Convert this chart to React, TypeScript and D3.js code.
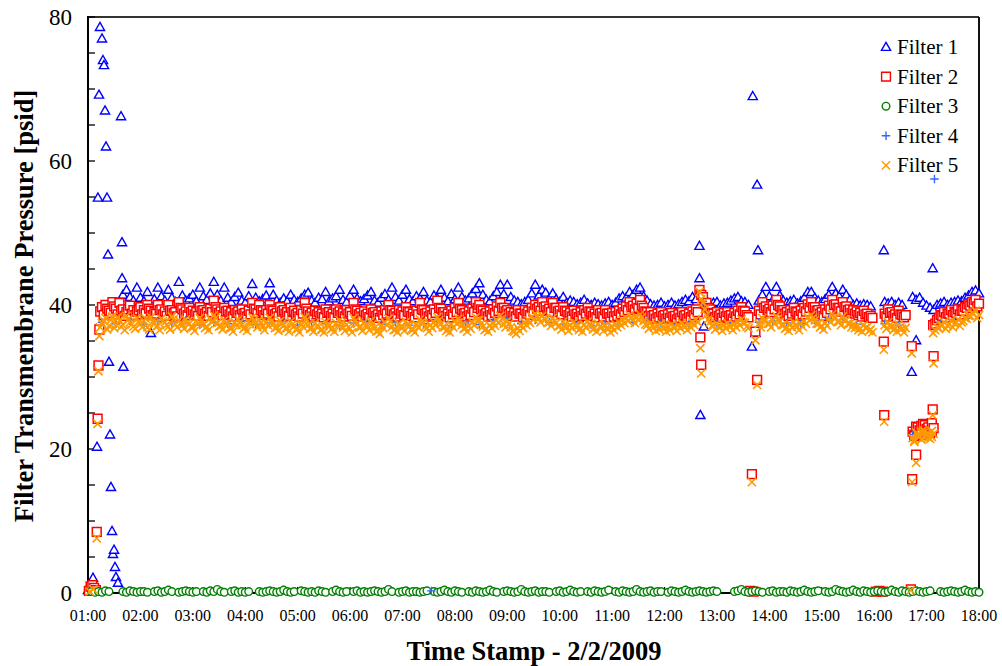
import React from "react";
import * as d3 from "d3";

// ---------- data (minutes after 01:00, pressure in psid) ----------
const STEP = 4; // band series sampled every 4 minutes from 01:00
const OFFSET_B = 2; // second sample set, 2 minutes after each grid point
const F4_STEP = 16;

const X_TICK_LABELS = ["01:00","02:00","03:00","04:00","05:00","06:00","07:00","08:00","09:00","10:00","11:00","12:00","13:00","14:00","15:00","16:00","17:00","18:00"];
const Y_TICKS = [0, 20, 40, 60, 80];
const Y_MINOR_TICKS = [0,5,10,15,20,25,30,35,40,45,50,55,60,65,70,75,80];
const LEGEND_LABELS = ["Filter 1", "Filter 2", "Filter 3", "Filter 4", "Filter 5"];

const F1_BAND: (number | null)[] = [
  null,null,null,null,null,null,null,null,null,null,41.4,42.1,41.1,40.6,42.4,41.0,
  40.5,41.8,36.1,40.8,42.4,41.2,40.6,42.1,41.0,40.4,43.2,41.3,40.6,40.9,41.4,40.5,
  42.4,41.2,40.7,41.6,43.2,41.4,40.6,42.4,41.0,40.4,41.1,41.7,40.6,40.3,41.2,42.9,
  41.0,40.5,40.8,41.3,43.0,41.4,40.6,40.3,40.9,40.5,41.4,40.7,40.4,40.9,41.4,41.7,
  40.6,40.3,41.0,40.8,41.8,40.5,40.9,41.2,42.1,40.7,40.4,41.3,42.1,40.9,40.5,40.8,
  41.3,41.8,40.6,40.3,41.0,41.5,40.7,42.4,41.1,40.6,41.4,42.1,40.8,40.5,41.2,40.9,
  41.8,40.6,40.4,41.3,40.9,42.1,41.0,40.5,41.5,40.8,42.4,41.1,40.6,40.9,41.6,42.2,
  43.0,41.4,40.7,40.5,41.2,41.8,42.8,41.5,42.8,41.1,40.6,40.4,40.1,40.4,40.7,41.6,
  42.8,41.3,42.1,41.7,40.9,41.6,40.8,40.4,41.1,40.3,40.6,40.4,40.1,40.3,40.7,40.2,
  40.0,40.3,40.1,39.9,40.2,40.4,40.0,40.3,40.9,41.2,41.0,41.8,41.4,42.1,42.4,41.2,
  40.6,40.1,39.9,40.0,40.3,39.8,40.0,40.3,39.9,40.1,40.4,40.7,40.5,41.1,40.8,43.7,
  41.5,40.2,40.0,40.3,40.4,39.9,40.2,40.3,40.6,40.9,41.1,40.5,40.4,40.0,null,null,
  40.6,41.4,42.5,41.2,40.7,42.5,41.3,40.6,40.3,40.5,40.7,40.2,40.5,41.0,41.8,41.8,
  41.0,40.6,40.4,40.8,41.4,42.5,41.6,41.2,42.1,41.4,40.7,40.0,40.2,39.9,40.1,40.0,
  39.8,null,null,null,40.4,40.2,40.4,40.0,40.3,40.0,null,null,41.1,40.7,41.0,40.3,
  39.9,39.6,39.3,40.0,40.2,40.4,40.0,40.3,40.4,40.6,40.5,41.0,41.3,41.8,42.0,41.6,
];
const F1_EXTRA: [number, number][] = [
  [0,0.4],[2.3,0.7],[4.6,1.4],[5.7,2.1],[10.3,20.3],[11.4,54.9],[12.6,69.2],[13.7,78.6],
  [16,77.0],[17.2,74.0],[18.3,73.3],[19.5,67.0],[20.6,62.0],[21.8,54.9],[22.9,47.0],[24,32.1],
  [25.2,22.0],[26.3,14.7],[27.5,8.6],[28.6,5.4],[29.8,6.0],[30.9,3.6],[32,2.2],[34.3,1.4],
  [37.8,66.2],[38.9,48.7],[39,43.7],[40.5,31.4],
  [700,48.2],[701,24.7],[705,37.0],
  [760,34.2],[761,69.0],[764,36.1],[766,56.7],[767,47.6],
  [911,47.6],[943,30.7],[948,35.1],[967,45.1],
];

const F2_BAND: (number | null)[] = [
  null,null,null,null,39.7,40.0,39.2,40.4,39.5,40.3,39.4,39.0,39.9,39.3,39.1,39.7,
  39.3,40.0,39.2,39.0,40.0,39.4,39.1,40.0,39.3,39.0,40.4,39.4,39.1,39.6,39.2,39.0,
  39.7,39.3,39.0,39.5,40.6,39.4,39.1,39.6,39.2,39.0,39.3,39.1,39.4,38.9,39.2,40.3,
  39.4,40.0,39.1,39.3,40.0,39.2,38.9,39.7,39.3,39.0,39.6,39.2,38.9,39.3,40.3,39.1,
  38.9,39.2,39.0,38.8,39.4,39.0,38.8,39.4,39.1,38.9,39.3,39.0,40.3,39.2,38.9,39.1,
  38.8,39.4,39.0,38.7,39.1,39.3,40.0,39.2,38.9,39.3,39.1,39.7,39.0,38.8,39.2,40.3,
  39.3,38.9,39.1,39.4,40.6,39.5,39.0,38.8,39.2,39.6,40.3,39.3,38.9,39.1,39.5,40.4,
  40.0,39.2,38.9,39.1,39.4,39.8,40.3,39.6,39.3,39.0,38.9,39.3,38.8,39.3,39.1,39.6,
  40.0,39.7,40.4,39.8,39.5,40.3,39.6,39.2,39.7,39.1,38.9,39.2,38.8,39.0,39.3,39.6,
  39.0,38.8,39.3,38.9,39.3,38.8,38.9,39.0,39.2,39.5,39.8,40.4,39.9,40.2,40.7,39.6,
  39.0,39.0,38.6,38.8,39.0,38.6,38.7,38.9,38.5,38.7,39.0,38.6,38.8,39.1,39.4,42.1,
  41.1,40.3,39.4,38.8,39.0,38.7,38.9,39.0,38.6,38.9,39.2,39.7,39.1,38.3,null,null,
  39.2,40.4,39.8,39.5,39.9,40.7,39.8,39.3,39.0,39.3,39.6,39.0,39.2,39.6,40.1,40.4,
  39.7,39.3,39.0,39.4,39.9,40.7,40.1,39.6,40.4,39.8,39.4,39.3,39.1,38.9,39.2,38.8,
  38.5,null,null,null,38.8,39.4,39.0,38.7,39.2,38.6,38.6,null,22.4,23.1,22.6,23.5,
  22.8,22.2,22.9,37.9,38.6,39.0,38.8,39.3,39.0,39.4,39.2,39.7,40.1,40.4,40.7,40.2,
];
const F2_BAND_B: (number | null)[] = [
  null,null,null,39.1,38.6,39.5,38.9,39.8,38.7,39.2,38.5,39.4,38.8,38.6,39.3,38.7,
  38.9,39.5,38.6,38.8,39.3,38.7,38.5,39.2,38.9,38.4,39.6,38.8,38.6,39.0,38.7,38.5,
  39.2,38.8,38.5,39.0,39.7,38.9,38.6,39.1,38.7,38.4,38.9,38.6,38.8,38.4,38.7,39.5,
  38.9,39.3,38.6,38.8,39.4,38.7,38.4,39.1,38.8,38.5,39.0,38.7,38.4,38.8,39.5,38.6,
  38.4,38.7,38.5,38.3,38.9,38.5,38.3,38.9,38.6,38.4,38.8,38.5,39.4,38.7,38.4,38.6,
  38.3,38.9,38.5,38.2,38.6,38.8,39.3,38.7,38.4,38.8,38.6,39.1,38.5,38.3,38.7,39.4,
  38.8,38.4,38.6,38.9,39.6,39.0,38.5,38.3,38.7,39.0,39.5,38.8,38.4,38.6,39.0,39.6,
  39.4,38.7,38.4,38.6,38.9,39.2,39.6,39.1,38.8,38.5,38.4,38.8,38.3,38.8,38.6,39.1,
  39.5,39.2,39.7,39.3,39.0,39.6,39.1,38.7,39.2,38.6,38.4,38.7,38.3,38.5,38.8,39.1,
  38.5,38.3,38.8,38.4,38.8,38.3,38.4,38.5,38.7,39.0,39.3,39.7,39.4,39.6,39.9,39.1,
  38.5,38.5,38.1,38.3,38.5,38.1,38.2,38.4,38.0,38.2,38.5,38.1,38.3,38.6,39.0,41.4,
  40.2,39.6,38.9,38.3,38.5,38.2,38.4,38.5,38.1,38.4,38.7,39.2,38.6,null,null,null,
  38.7,39.6,39.3,39.0,39.4,40.0,39.3,38.8,38.5,38.8,39.1,38.5,38.7,39.1,39.6,39.7,
  39.2,38.8,38.5,38.9,39.4,40.0,39.6,39.1,39.7,39.3,38.9,38.8,38.6,38.4,38.7,38.3,
  38.2,null,null,null,38.4,38.9,38.5,38.2,38.7,38.3,null,null,22.0,22.7,23.2,22.3,
  23.0,22.5,37.4,38.2,38.5,38.3,38.8,38.6,38.9,38.7,39.2,39.6,39.9,40.2,39.8,
];
const F2_EXTRA: [number, number][] = [
  [1,0.3],[3,0.9],[5,1.1],[7,0.7],[9,0.4],[10,8.5],[11,24.2],[12,31.6],[13,36.6],
  [701,35.5],[702,31.7],
  [758,0.3],[760,16.5],[762,0.2],[764,36.3],[766,29.6],
  [902,0.2],[906,0.3],[910,0.2],[911,34.9],[911.5,24.7],
  [942,0.5],[943,34.3],[943.5,15.8],[946,21.8],[948,19.2],[950,23.0],[954,22.0],[958,23.3],[962,22.5],[966,23.6],
  [967,25.5],[967.5,37.2],[968,32.9],
];

const F3_BAND: (number | null)[] = [
  null,0.2,0.1,0.2,0.1,0.3,0.2,null,null,null,0.2,0.1,0.3,0.2,0.1,0.2,
  0.2,0.1,null,0.2,0.3,0.1,0.2,0.4,0.2,null,0.1,0.2,0.3,0.2,0.1,0.2,
  null,0.2,0.1,0.3,0.2,0.5,0.2,0.1,null,0.2,0.3,0.1,0.2,0.1,0.2,null,
  null,0.2,0.1,0.2,0.3,0.2,0.1,0.2,0.4,0.2,0.1,0.2,null,0.3,0.2,0.1,
  0.2,0.1,0.3,0.2,0.1,null,0.2,0.4,0.2,0.1,0.2,null,0.2,0.3,0.1,0.2,
  0.1,0.2,0.3,0.2,0.1,0.2,0.5,0.2,null,0.1,0.2,0.3,0.1,0.2,0.2,0.1,
  0.2,0.3,null,0.2,0.1,0.2,0.4,0.2,0.1,0.3,0.2,0.1,null,0.2,0.1,0.3,
  0.2,0.1,0.2,0.4,0.2,0.1,null,0.2,0.3,0.2,0.1,0.2,0.5,0.2,0.1,0.2,
  0.3,0.1,0.2,0.2,0.1,null,0.2,0.3,0.1,0.2,0.4,0.2,0.1,0.2,null,0.2,
  0.1,0.3,0.2,0.1,0.2,0.4,null,0.2,0.1,0.3,0.2,0.1,0.2,0.5,0.2,0.1,
  0.2,0.3,0.1,0.2,0.2,null,0.1,0.3,0.2,0.1,0.2,0.4,0.2,0.1,0.2,0.3,
  0.2,0.1,0.2,0.3,0.2,null,null,null,null,0.2,0.3,0.5,0.2,0.1,0.2,0.3,
  0.2,0.1,null,0.2,0.3,0.1,0.2,0.2,0.1,0.3,0.2,0.1,0.2,0.4,0.2,0.1,
  0.2,0.3,null,0.2,0.1,0.2,0.5,0.3,0.2,0.1,0.2,0.4,0.2,0.1,0.3,0.2,
  0.1,0.2,0.3,0.2,0.1,0.2,0.4,0.2,0.1,0.3,0.2,0.1,0.2,0.3,0.2,0.1,
  0.2,0.3,null,null,0.2,0.1,0.2,0.3,0.2,0.1,0.2,0.4,0.2,0.1,0.2,0.1,
];

const F4_BAND: (number | null)[] = [
  null,37.6,37.4,37.8,37.3,37.7,37.5,37.9,37.2,37.6,37.4,37.8,37.3,37.5,37.7,37.2,
  37.6,37.4,37.1,37.5,37.8,37.3,37.6,37.2,37.4,37.7,37.1,37.5,37.3,37.8,38.1,37.4,
  37.9,37.6,37.3,37.5,37.2,37.4,37.1,37.6,38.0,37.5,37.2,37.4,40.5,37.3,37.5,null,
  37.6,37.8,37.5,37.4,37.9,38.1,37.6,37.3,null,37.4,37.2,22.0,21.8,37.5,37.8,38.2,
];
const F4_EXTRA: [number, number][] = [[393,0.3],[969,57.5]];

const F5_BAND: (number | null)[] = [
  null,null,null,null,37.5,38.2,37.1,38.4,37.3,37.9,37.2,38.5,37.6,37.0,38.2,37.4,
  37.8,36.9,38.3,37.5,37.1,38.1,37.6,37.0,38.4,37.3,37.9,37.2,38.0,37.4,36.9,37.8,
  38.2,37.3,37.0,38.1,38.6,37.5,37.1,37.9,37.3,36.8,37.6,38.0,37.2,36.9,37.7,38.3,
  37.4,37.9,37.0,37.6,38.2,37.3,36.9,37.8,37.2,36.8,37.7,37.1,36.7,37.4,38.3,37.2,
  36.8,37.5,37.0,36.6,37.6,37.1,36.8,37.5,37.9,36.9,37.3,36.7,38.2,37.4,36.9,37.6,
  37.0,37.8,36.8,36.4,37.2,37.6,38.1,37.0,36.6,37.4,36.9,37.7,37.1,36.6,37.3,38.0,
  37.5,36.8,37.2,37.6,38.3,37.4,36.9,36.6,37.3,37.8,38.1,37.2,36.8,37.1,37.6,38.3,
  37.9,37.0,36.7,37.2,37.5,37.9,38.5,37.4,37.8,36.9,36.3,36.8,37.2,37.6,37.9,38.4,
  38.8,38.1,38.5,38.0,37.6,38.2,37.5,37.1,37.7,36.9,37.2,37.6,37.0,36.8,37.3,37.7,
  37.1,36.8,37.4,36.9,37.2,36.7,37.0,37.3,37.6,37.9,38.2,38.6,38.0,38.3,38.7,37.8,
  37.2,37.5,36.9,37.1,37.4,36.8,37.0,37.3,36.9,37.2,37.5,37.0,37.3,37.6,38.0,41.8,
  40.3,38.6,37.6,37.1,37.4,36.9,37.2,37.5,37.0,37.3,37.6,38.0,37.5,36.8,null,null,
  37.4,38.2,37.9,37.4,37.8,38.5,37.7,37.2,36.9,37.3,37.6,37.0,37.4,37.8,38.3,38.6,
  37.9,37.4,37.1,37.5,38.0,38.7,38.2,37.7,38.4,37.9,37.4,37.3,37.0,36.8,37.2,36.9,
  36.6,null,null,null,37.2,37.6,37.0,36.8,37.3,36.7,36.8,null,21.5,22.3,21.8,22.6,
  21.9,21.4,22.1,36.9,37.2,37.6,37.1,37.8,37.4,38.0,37.6,38.2,38.5,38.9,39.2,38.6,
];
const F5_BAND_B: (number | null)[] = [
  null,null,null,36.9,37.8,36.6,37.9,36.8,38.3,37.0,36.5,38.0,37.3,36.7,37.6,36.9,
  38.1,36.6,37.7,37.0,36.5,37.8,37.2,36.6,38.0,36.9,37.5,36.7,37.6,36.9,36.4,37.4,
  37.8,36.8,36.5,37.6,38.2,37.0,36.6,37.5,36.8,36.3,37.2,37.6,36.7,36.4,37.3,37.9,
  36.9,37.5,36.5,37.2,37.8,36.8,36.4,37.4,36.7,36.3,37.3,36.6,36.2,37.0,37.9,36.7,
  36.3,37.1,36.5,36.2,37.2,36.6,36.3,37.1,37.5,36.4,36.9,36.2,37.8,36.9,36.4,37.2,
  36.5,37.4,36.3,36.0,36.8,37.2,37.7,36.5,36.2,37.0,36.4,37.3,36.6,36.2,36.9,37.6,
  37.0,36.3,36.8,37.2,37.9,36.9,36.4,36.2,36.9,37.4,37.7,36.7,36.3,36.7,37.2,37.9,
  37.4,36.5,36.3,36.8,37.1,37.5,38.1,36.9,37.4,36.4,36.0,36.4,36.8,37.2,37.5,38.0,
  38.4,37.6,38.1,37.5,37.1,37.8,37.0,36.6,37.3,36.4,36.8,37.2,36.5,36.3,36.9,37.3,
  36.6,36.3,37.0,36.4,36.8,36.2,36.5,36.9,37.2,37.5,37.8,38.2,37.5,37.9,38.3,37.3,
  36.7,37.1,36.4,36.6,37.0,36.3,36.5,36.9,36.4,36.8,37.1,36.5,36.9,37.2,37.6,40.8,
  39.4,38.0,37.1,36.6,37.0,36.4,36.8,37.1,36.5,36.9,37.2,37.6,37.0,null,null,null,
  36.9,37.8,37.4,36.9,37.4,38.1,37.2,36.7,36.4,36.9,37.2,36.5,37.0,37.4,37.9,38.2,
  37.4,36.9,36.6,37.1,37.6,38.3,37.7,37.2,38.0,37.4,36.9,36.8,36.5,36.3,36.8,36.4,
  36.2,null,null,null,36.7,37.2,36.5,36.3,36.9,36.2,null,null,21.2,21.9,22.4,21.6,
  22.2,21.7,36.5,36.8,37.2,36.7,37.4,36.9,37.6,37.1,37.8,38.1,38.5,38.8,38.2,
];
const F5_EXTRA: [number, number][] = [
  [2,0.2],[6,0.5],[10,7.6],[11,23.5],[12,30.8],[13,35.7],
  [701,34.0],[702,30.5],
  [760,15.4],[764,35.1],[766,28.9],
  [911,33.8],[911.5,23.8],
  [942,0.4],[943,33.3],[943.5,15.4],[946,21.0],[948,18.1],[950,22.1],[954,21.3],[958,22.4],[962,21.6],[966,22.5],
  [967,24.7],[967.5,36.1],[968,31.9],
];

// ---------- layout ----------
const W = 1002, H = 666;
const PL = 88, PR = 979, PT = 17, PB = 593;
const x = d3.scaleLinear().domain([0, 1020]).range([PL, PR]);
const y = d3.scaleLinear().domain([0, 80]).range([PB, PT]);

type Pt = [number, number];
function bandPoints(band: (number | null)[], step: number, offset: number): Pt[] {
  const pts: Pt[] = [];
  band.forEach((v, i) => { if (v != null) pts.push([offset + i * step, v]); });
  return pts;
}
function merge(...lists: Pt[][]): Pt[] {
  return ([] as Pt[]).concat(...lists).sort((a, b) => a[0] - b[0]);
}

const triType = { draw(c: any) { c.moveTo(0, -4.7); c.lineTo(4.6, 3.4); c.lineTo(-4.6, 3.4); c.closePath(); } };
const sqType = { draw(c: any) { const a = 4.4; c.moveTo(-a, -a); c.lineTo(a, -a); c.lineTo(a, a); c.lineTo(-a, a); c.closePath(); } };
const circType = { draw(c: any) { const r = 3.8; c.moveTo(r, 0); c.arc(0, 0, r, 0, 2 * Math.PI); } };
const plusType = { draw(c: any) { const a = 4.2; c.moveTo(-a, 0); c.lineTo(a, 0); c.moveTo(0, -a); c.lineTo(0, a); } };
const timesType = { draw(c: any) { const a = 4.1; c.moveTo(-a, -a); c.lineTo(a, a); c.moveTo(a, -a); c.lineTo(-a, a); } };

const sym = (t: any) => d3.symbol().type(t)() as string;

const SERIES = [
  { pts: merge(bandPoints(F1_BAND, STEP, 0), F1_EXTRA), d: sym(triType), stroke: "#0000ff", fill: "#ffffff", sw: 1.4 },
  { pts: merge(bandPoints(F2_BAND, STEP, 0), bandPoints(F2_BAND_B, STEP, OFFSET_B), F2_EXTRA), d: sym(sqType), stroke: "#ff0000", fill: "#ffffff", sw: 1.5 },
  { pts: bandPoints(F3_BAND, STEP, 0), d: sym(circType), stroke: "#008000", fill: "#ffffff", sw: 1.4 },
  { pts: merge(bandPoints(F4_BAND, F4_STEP, 0), F4_EXTRA), d: sym(plusType), stroke: "#3366ff", fill: "none", sw: 1.4 },
  { pts: merge(bandPoints(F5_BAND, STEP, 0), bandPoints(F5_BAND_B, STEP, OFFSET_B), F5_EXTRA), d: sym(timesType), stroke: "#ff9900", fill: "none", sw: 1.6 },
];

const FONT = "'Liberation Serif', 'Times New Roman', Times, serif";

export default function App() {
  const hours = X_TICK_LABELS.map((_, i) => i * 60);
  return (
    <svg width={W} height={H} style={{ position: "absolute", left: 0, top: 0, background: "#fff" }} fontFamily={FONT}>
      <rect x={0} y={0} width={W} height={H} fill="#fff" />
      {/* frame */}
      <line x1={PL} x2={PR} y1={PT} y2={PT} stroke="#333" strokeWidth={2} />
      <line x1={PR} x2={PR} y1={PT} y2={PB} stroke="#111" strokeWidth={2} />
      <line x1={PL} x2={PL} y1={PT - 1} y2={PB + 1} stroke="#000" strokeWidth={2} />
      <line x1={PL} x2={PR} y1={PB} y2={PB} stroke="#000" strokeWidth={2} />
      {Y_MINOR_TICKS.map((v) => (
        <line key={"ym" + v} x1={PL} x2={PL + 7} y1={y(v)} y2={y(v)} stroke="#000" strokeWidth={1.3} />
      ))}
      {hours.map((t) => (
        <line key={"xt" + t} x1={x(t)} x2={x(t)} y1={PB} y2={PB - 6} stroke="#000" strokeWidth={1.3} />
      ))}
      {Y_TICKS.map((v) => (
        <text key={"yl" + v} x={72} y={y(v)} dy="0.35em" textAnchor="end" fontSize={23} fill="#000">{v}</text>
      ))}
      {X_TICK_LABELS.map((lab, i) => (
        <text key={"xl" + lab} x={x(hours[i])} y={621} textAnchor="middle" fontSize={16} fill="#000">{lab}</text>
      ))}
      {/* series */}
      {SERIES.map((s, si) => (
        <g key={"s" + si} stroke={s.stroke} fill={s.fill} strokeWidth={s.sw}>
          {s.pts.map((p, i) => (
            <path key={i} d={s.d} transform={`translate(${x(p[0]).toFixed(2)},${y(p[1]).toFixed(2)})`} />
          ))}
        </g>
      ))}
      {/* legend */}
      {SERIES.map((s, i) => {
        const cy = 47 + 29.6 * i;
        return (
          <g key={"lg" + i}>
            <path d={s.d} transform={`translate(886,${cy})`} stroke={s.stroke} fill={s.fill} strokeWidth={1.4} />
            <text x={897} y={cy + 7} fontSize={21} fill="#000">{LEGEND_LABELS[i]}</text>
          </g>
        );
      })}
      {/* titles */}
      <text transform="translate(33,306) rotate(-90)" textAnchor="middle" fontSize={26.5} fontWeight="bold" fill="#000">
        Filter Transmembrane Pressure [psid]
      </text>
      <text x={534} y={660} textAnchor="middle" fontSize={26.5} fontWeight="bold" fill="#000">
        Time Stamp - 2/2/2009
      </text>
    </svg>
  );
}
